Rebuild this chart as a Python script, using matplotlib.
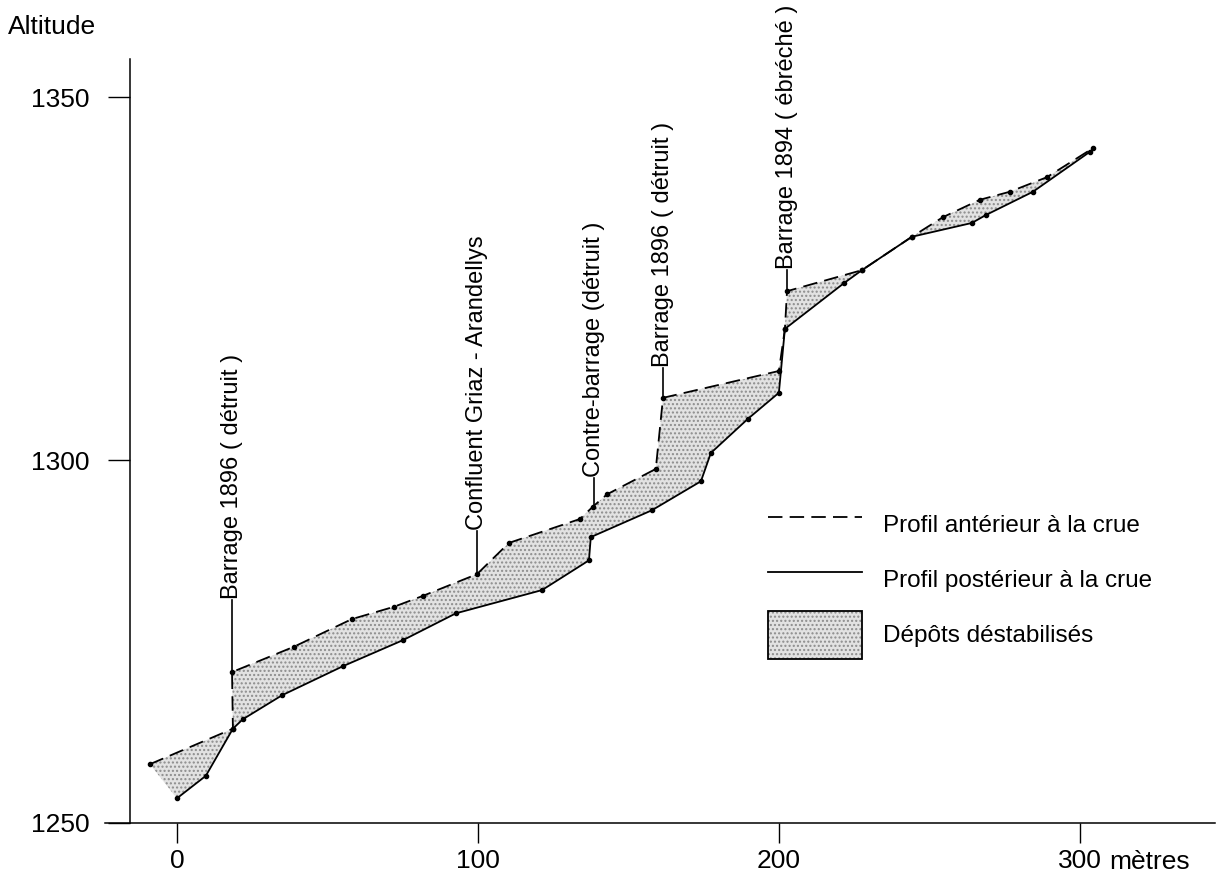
import matplotlib.pyplot as plt
from matplotlib.lines import Line2D
from matplotlib.patches import Patch
from matplotlib.legend_handler import HandlerTuple

plt.rcParams["font.family"] = ["Liberation Sans", "DejaVu Sans"]
plt.rcParams["hatch.linewidth"] = 1.0

# profil antérieur à la crue (tirets)
before_x = [-9.0, 18.6, 18.3, 38.9, 58.1, 72.1, 81.7, 99.7, 110.3, 133.9, 138.2,
            142.9, 159.1, 161.5, 200.0, 202.0, 202.7, 227.6, 244.2, 254.5, 266.8,
            276.7, 289.0, 304.3]
before_y = [1258.1, 1263.0, 1270.8, 1274.3, 1278.1, 1279.8, 1281.3, 1284.3, 1288.6,
            1291.9, 1293.6, 1295.3, 1298.8, 1308.6, 1312.3, 1318.1, 1323.3, 1326.2,
            1330.8, 1333.5, 1335.9, 1337.0, 1339.0, 1343.0]

# profil postérieur à la crue (trait plein)
after_x = [0.0, 9.6, 18.6, 21.9, 34.9, 55.1, 75.1, 92.7, 121.3, 136.9, 137.5,
           157.8, 174.1, 177.4, 189.7, 200.0, 202.0, 221.6, 227.6, 244.2, 264.1,
           268.8, 284.4, 303.3]
after_y = [1253.4, 1256.5, 1263.0, 1264.3, 1267.6, 1271.6, 1275.2, 1278.9, 1282.1,
           1286.2, 1289.4, 1293.1, 1297.1, 1301.0, 1305.7, 1309.3, 1318.1, 1324.4,
           1326.2, 1330.8, 1332.7, 1333.8, 1337.0, 1342.5]

# repères (barrages, confluent)
mark_x = [18.3, 99.7, 138.5, 161.5, 202.7]
mark_base = [1270.8, 1284.3, 1293.6, 1308.6, 1323.3]
mark_top = [1280.7, 1290.2, 1297.5, 1312.7, 1326.2]
mark_labels = ["Barrage 1896 ( détruit )", "Confluent Griaz - Arandellys",
               "Contre-barrage (détruit )", "Barrage 1896 ( détruit )",
               "Barrage 1894 ( ébréché )"]

x_ticks = [0, 100, 200, 300]
y_ticks = [1250, 1300, 1350]

W, H = 1231, 876
fig = plt.figure(figsize=(W / 100, H / 100), dpi=100)
ax = fig.add_axes([105 / W, 1 - 823 / H, (1215 - 105) / W, (823 - 59) / H])
ax.set_xlim(-23.9, 344.9)
ax.set_ylim(1250, 1355.3)

# zone des dépôts déstabilisés
poly_x = before_x + after_x[::-1]
poly_y = before_y + after_y[::-1]
ax.fill(poly_x, poly_y, facecolor="#e2e2e2", edgecolor="#8c8c8c",
        hatch="....", linewidth=0)

dash = (0, (8, 4))
ax.plot(before_x, before_y, color="black", lw=1.3, linestyle=dash,
        marker="o", markersize=3)
ax.plot(after_x, after_y, color="black", lw=1.3, marker="o", markersize=3)

for x, y0, y1, lab in zip(mark_x, mark_base, mark_top, mark_labels):
    ax.plot([x, x], [y0, y1], color="black", lw=1.2)
    ax.text(x, y1 + 0.2, lab, rotation=90, ha="center", va="bottom", fontsize=17)

for side in ["top", "right"]:
    ax.spines[side].set_visible(False)
ax.spines["left"].set_position(("data", -15.6))
ax.spines["left"].set_linewidth(1.1)
ax.spines["bottom"].set_linewidth(1.1)

ax.set_xticks(x_ticks)
ax.set_xticklabels([str(v) for v in x_ticks])
ax.set_yticks(y_ticks)
ax.set_yticklabels([str(v) for v in y_ticks])
ax.tick_params(axis="y", direction="out", length=16, width=1, pad=13, labelsize=19)
ax.tick_params(axis="x", direction="out", length=14.4, width=1, pad=4, labelsize=19)

ax.annotate("mètres", xy=(300, 1250), xycoords="data", xytext=(21, -28),
            textcoords="offset points", ha="left", va="center", fontsize=19)

fig.text(8 / W, 1 - 27 / H, "Altitude", ha="left", va="center", fontsize=19)

h_before = Line2D([], [], color="black", lw=1.3, linestyle=dash)
h_after = Line2D([], [], color="black", lw=1.3)
h_fill = (Patch(facecolor="#e2e2e2", edgecolor="#8c8c8c", hatch="....", linewidth=0),
          Patch(facecolor="none", edgecolor="black", linewidth=1.3))
ax.legend([h_before, h_after, h_fill],
          ["Profil antérieur à la crue", "Profil postérieur à la crue",
           "Dépôts déstabilisés"],
          handler_map={tuple: HandlerTuple(ndivide=1, pad=0)},
          loc="upper left", bbox_to_anchor=(768 / W, 1 - 501 / H),
          bbox_transform=fig.transFigure, frameon=False, fontsize=17.5,
          borderpad=0, borderaxespad=0, handlelength=3.87, handleheight=2.63,
          handletextpad=0.86, labelspacing=0.31)

fig.savefig("out.png", dpi=100)
